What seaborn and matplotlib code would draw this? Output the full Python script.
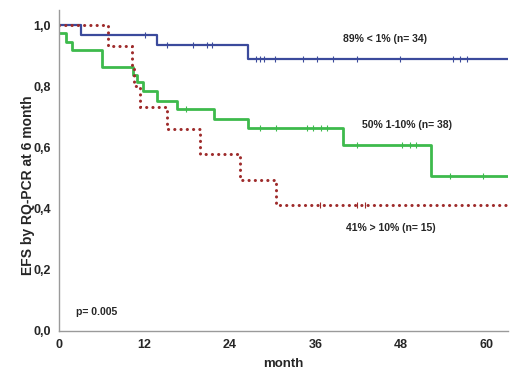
import numpy as np
import pandas as pd
import seaborn as sns
import matplotlib.pyplot as plt

# step curves (time in months, EFS)
low_t = [0, 3.1, 13.8, 26.5, 63]
low_s = [1.0, 0.97, 0.937, 0.89, 0.89]
low_cens = [12, 15.1, 18.8, 20.7, 21.5, 27.6, 28.2, 28.8, 30.3, 34.3, 36.2, 38.5, 41.8, 47.9, 55.3, 56.2, 57.2]

mid_t = [0, 1.0, 1.8, 6.0, 10.4, 10.9, 11.8, 13.7, 16.5, 21.8, 26.5, 39.8, 52.2, 63]
mid_s = [0.974, 0.945, 0.918, 0.863, 0.836, 0.814, 0.785, 0.754, 0.725, 0.694, 0.663, 0.607, 0.508, 0.508]
mid_cens = [17.8, 28.2, 30.5, 34.8, 35.7, 36.7, 37.6, 41.8, 48.1, 49.3, 50.1, 54.9, 59.5]

high_t = [0, 6.9, 10.2, 10.5, 11.4, 15.1, 19.8, 25.4, 30.5, 63]
high_s = [1.0, 0.933, 0.867, 0.8, 0.733, 0.661, 0.578, 0.492, 0.412, 0.412]
high_cens = [36.6, 41.8, 43.0]

groups = ["89% < 1% (n= 34)", "50% 1-10% (n= 38)", "41% > 10% (n= 15)"]
colors = ["#3b4a9c", "#3dba4c", "#9e2b2b"]

curves = pd.concat([
    pd.DataFrame({"month": low_t, "efs": low_s, "group": groups[0]}),
    pd.DataFrame({"month": mid_t, "efs": mid_s, "group": groups[1]}),
    pd.DataFrame({"month": high_t, "efs": high_s, "group": groups[2]}),
])


def at(t, s, c):
    idx = np.searchsorted(t, c, side="right") - 1
    return np.array(s)[idx]


cens = pd.concat([
    pd.DataFrame({"month": low_cens, "efs": at(low_t, low_s, low_cens), "group": groups[0]}),
    pd.DataFrame({"month": mid_cens, "efs": at(mid_t, mid_s, mid_cens), "group": groups[1]}),
    pd.DataFrame({"month": high_cens, "efs": at(high_t, high_s, high_cens), "group": groups[2]}),
])

sns.set_style("white")
plt.rcParams["font.family"] = ["Liberation Sans", "DejaVu Sans"]
plt.rcParams["font.weight"] = "bold"

fig, ax = plt.subplots(figsize=(5.2, 3.77), dpi=100)
fig.subplots_adjust(left=0.1135, right=0.977, bottom=0.123, top=0.973)

for g, col in zip(groups, colors):
    d = curves[curves["group"] == g]
    lw = {groups[0]: 1.6, groups[1]: 2.0, groups[2]: 2.2}[g]
    sns.lineplot(data=d, x="month", y="efs", drawstyle="steps-post", estimator=None,
                 color=col, linewidth=lw, ax=ax)
    if g == groups[2]:
        # dotted red line, dots spaced like the original
        ax.lines[-1].set_dashes([0.05, 2.0])
        ax.lines[-1].set_dash_capstyle("round")
    c = cens[cens["group"] == g]
    sns.scatterplot(data=c, x="month", y="efs", marker="|", s=16, color=col,
                    linewidth=0.8, ax=ax)

ax.set_xlim(0, 63)
ax.set_ylim(0, 1.05)
ax.set_xticks([0, 12, 24, 36, 48, 60])
ax.set_yticks([0.0, 0.2, 0.4, 0.6, 0.8, 1.0])
ax.set_yticklabels(["0,0", "0,2", "0,4", "0,6", "0,8", "1,0"])
ax.tick_params(axis="both", labelsize=9, length=5, width=0.9, color="#888888",
               direction="out", pad=1)
for side in ["top", "right"]:
    ax.spines[side].set_visible(False)
for side in ["left", "bottom"]:
    ax.spines[side].set_color("#9a9a9a")
    ax.spines[side].set_linewidth(1.0)

ax.set_xlabel("month", fontsize=9.5, fontweight="bold")
ax.set_ylabel("EFS by RQ-PCR at 6 month", fontsize=10, fontweight="bold")
ax.xaxis.set_label_coords(0.5, -0.085)
ax.yaxis.set_label_coords(-0.054, 0.455)

ax.text(45.8, 0.955, groups[0], fontsize=7.5, ha="center", va="center", fontweight="bold")
ax.text(48.8, 0.675, groups[1], fontsize=7.5, ha="center", va="center", fontweight="bold")
ax.text(46.5, 0.335, groups[2], fontsize=7.5, ha="center", va="center", fontweight="bold")
ax.text(2.4, 0.06, "p= 0.005", fontsize=7.5, ha="left", va="center", fontweight="bold")

plt.savefig("out.png", dpi=100)
